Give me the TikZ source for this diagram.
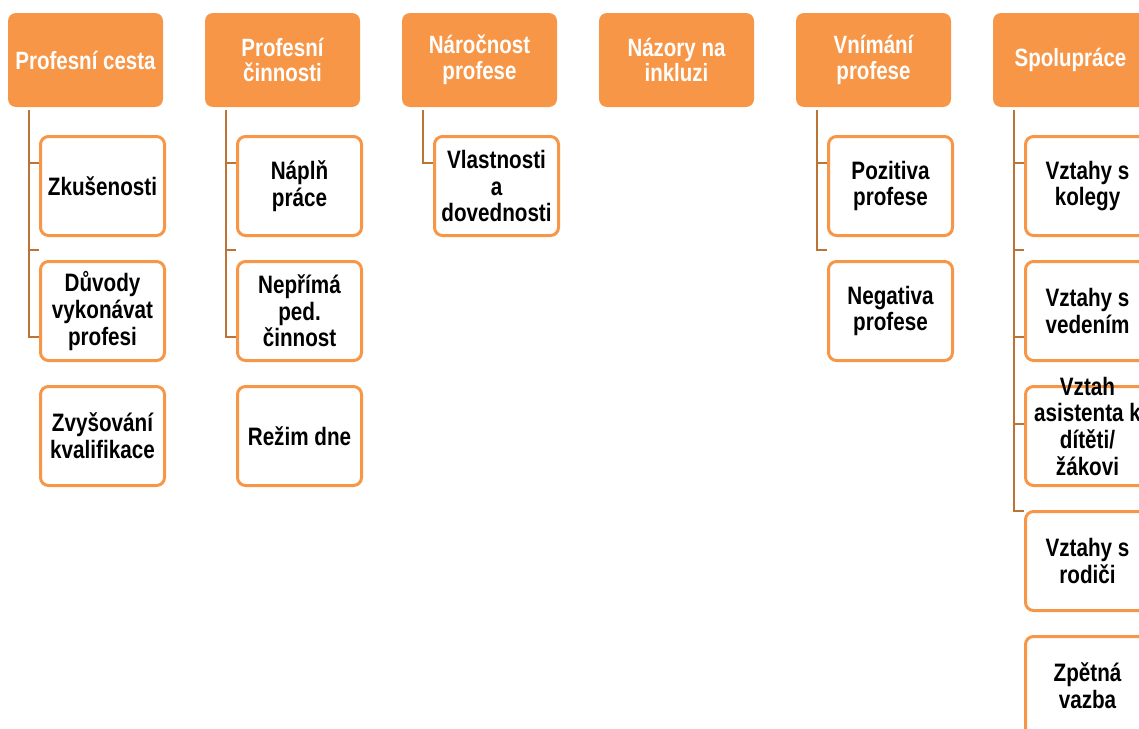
\documentclass[tikz,border=0pt]{standalone}
\usepackage{fontspec}
\setmainfont[FakeStretch=0.82]{Liberation Sans}
\usepackage{xcolor}
\usetikzlibrary{positioning,calc}

\definecolor{smOrange}{RGB}{247,150,70}
\definecolor{smBrown}{RGB}{187,116,54}

\begin{document}
\begin{tikzpicture}[x=0.5pt, y=-0.5pt, node distance=0.0cm,
    head/.style={fill=smOrange, rounded corners=4pt, outer sep=0pt,
        minimum width=77.5pt, minimum height=47pt, inner sep=2pt,
        align=center, text=white, font=\bfseries\fontsize{12.5pt}{12.8pt}\selectfont},
    item/.style={draw=smOrange, line width=1.5pt, fill=white, rounded corners=4pt,
        minimum width=62pt, minimum height=49.5pt, inner sep=1pt,
        align=center, font=\bfseries\fontsize{12.6pt}{13.3pt}\selectfont},
    conn/.style={draw=smBrown, line width=1.4pt}]

  \useasboundingbox (0,0) rectangle (1139,728);
  \clip (0,0) rectangle (1139,728);

  %% ─── Header row ─────────────────────────────────────────────────────────
  \node[head] (pc) at (85.5,60) {Profesní cesta};
  \node[head, right=21pt of pc] (pcin) {Profesní\\činnosti};
  \node[head, right=21pt of pcin] (nar) {Náročnost\\profese};
  \node[head, right=21pt of nar] (naz) {Názory na\\inkluzi};
  \node[head, right=21pt of naz] (vni) {Vnímání\\profese};
  \node[head, right=21pt of vni] (spo) {Spolupráce};

  %% ─── Profesní cesta ─────────────────────────────────────────────────────
  \node[item, below right=14pt and 15.5pt of pc.south west] (pc_zk) {Zkušenosti};
  \node[item, below=11.5pt of pc_zk] (pc_duv) {Důvody\\vykonávat\\profesi};
  \node[item, below=11.5pt of pc_duv] (pc_kval) {Zvyšování\\kvalifikace};

  \coordinate (pc_t) at ([xshift=10.5pt,yshift=-1.5pt]pc.south west);
  \draw[conn] (pc_t) -- ++(0,227) coordinate (pc_e) -- (pc_e -| pc_zk.west);
  \foreach \k in {0,1}
    \draw[conn] (pc_t) ++(0,53+87*\k) coordinate (tk) -- (tk -| pc_zk.west);

  %% ─── Profesní činnosti ──────────────────────────────────────────────────
  \node[item, below right=14pt and 15.5pt of pcin.south west] (pcin_napl) {Náplň\\práce};
  \node[item, below=11.5pt of pcin_napl] (pcin_nep) {Nepřímá\\ped.\\činnost};
  \node[item, below=11.5pt of pcin_nep] (pcin_rez) {Režim dne};

  \coordinate (pcin_t) at ([xshift=10.5pt,yshift=-1.5pt]pcin.south west);
  \draw[conn] (pcin_t) -- ++(0,227) coordinate (pcin_e) -- (pcin_e -| pcin_napl.west);
  \foreach \k in {0,1}
    \draw[conn] (pcin_t) ++(0,53+87*\k) coordinate (tk) -- (tk -| pcin_napl.west);

  %% ─── Náročnost profese ──────────────────────────────────────────────────
  \node[item, below right=14pt and 15.5pt of nar.south west] (nar_vl) {Vlastnosti\\a\\dovednosti};

  \coordinate (nar_t) at ([xshift=10.5pt,yshift=-1.5pt]nar.south west);
  \draw[conn] (nar_t) -- ++(0,53) coordinate (nar_e) -- (nar_e -| nar_vl.west);

  %% ─── Vnímání profese ────────────────────────────────────────────────────
  \node[item, below right=14pt and 15.5pt of vni.south west] (vni_poz) {Pozitiva\\profese};
  \node[item, below=11.5pt of vni_poz] (vni_neg) {Negativa\\profese};

  \coordinate (vni_t) at ([xshift=10.5pt,yshift=-1.5pt]vni.south west);
  \draw[conn] (vni_t) -- ++(0,140) coordinate (vni_e) -- (vni_e -| vni_poz.west);
  \draw[conn] (vni_t) ++(0,53) coordinate (tk) -- (tk -| vni_poz.west);

  %% ─── Spolupráce ─────────────────────────────────────────────────────────
  \node[item, below right=14pt and 15.5pt of spo.south west] (spo_kol) {Vztahy s\\kolegy};
  \node[item, below=11.5pt of spo_kol] (spo_ved) {Vztahy s\\vedením};
  \node[item, below=11.5pt of spo_ved] (spo_asi)
      {\smash{\begin{tabular}{@{}c@{}}Vztah\\asistenta k\\dítěti/\\žákovi\end{tabular}}};
  \node[item, below=11.5pt of spo_asi] (spo_rod) {Vztahy s\\rodiči};
  \node[item, below=11.5pt of spo_rod] (spo_zpv) {Zpětná\\vazba};

  \coordinate (spo_t) at ([xshift=10.5pt,yshift=-1.5pt]spo.south west);
  \draw[conn] (spo_t) -- ++(0,401) coordinate (spo_e) -- (spo_e -| spo_kol.west);
  \foreach \k in {0,1,2,3}
    \draw[conn] (spo_t) ++(0,53+87*\k) coordinate (tk) -- (tk -| spo_kol.west);

\end{tikzpicture}
\end{document}
